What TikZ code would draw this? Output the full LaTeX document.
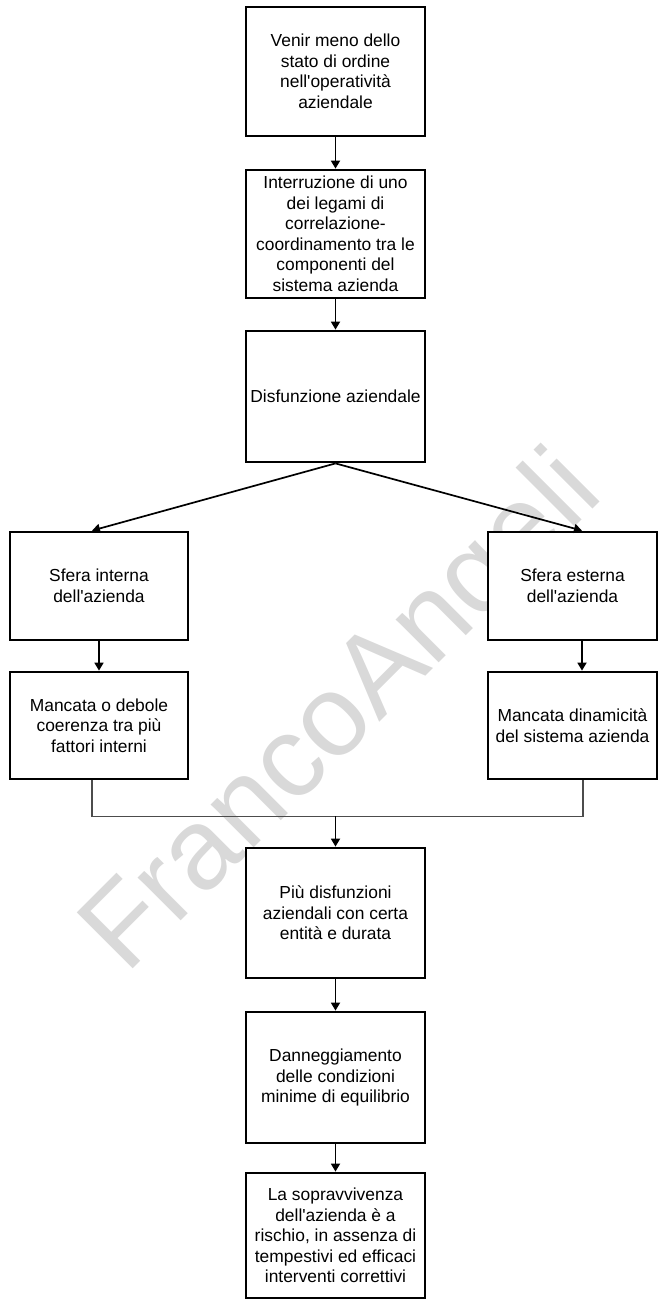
\documentclass[tikz,border=0pt]{standalone}
\usepackage{fontspec}
\setmainfont{Liberation Sans}
\usetikzlibrary{arrows.meta}
\newcommand\apos{\textquotesingle}
\begin{document}
\begin{tikzpicture}[x=1pt,y=-1pt,
  box/.style={draw, line width=2.8pt, fill=white, align=center, inner sep=0pt,
              font=\fontsize{17.4}{20.5}\selectfont},
  arr/.style={line width=1.7pt, -{Triangle[length=8pt,width=9pt]}},
  joinline/.style={line width=1.3pt, draw=black!70},
  wmark/.style={rotate=45, anchor=base west, inner sep=0pt, text=black!15,
                font=\fontsize{115}{115}\selectfont}]
\useasboundingbox (0,0) rectangle (657,1300);

% publisher watermark, behind everything
\node[wmark] (wm) at (126,976) {FrancoAngeli};

% central column
\node[box, minimum width=179pt, minimum height=129pt] (b1) at (335.5,71.5)
  {Venir meno dello\\stato di ordine\\nell\apos operatività\\aziendale};
\node[box, minimum width=179pt, minimum height=128pt] (b2) at (335.5,234)
  {Interruzione di uno\\dei legami di\\correlazione-\\coordinamento tra le\\componenti del\\sistema azienda};
\node[box, minimum width=179pt, minimum height=131pt] (b3) at (335.5,396.5)
  {Disfunzione aziendale};

% two branches
\node[box, minimum width=178pt, minimum height=108pt] (l1) at (99,586)
  {Sfera interna\\dell\apos azienda};
\node[box, minimum width=178pt, minimum height=107pt] (l2) at (99,725.5)
  {Mancata o debole\\coerenza tra più\\fattori interni};
\node[box, minimum width=169pt, minimum height=108pt] (r1) at (572.5,586)
  {Sfera esterna\\dell\apos azienda};
\node[box, minimum width=169pt, minimum height=107pt] (r2) at (572.5,725.5)
  {Mancata dinamicità\\del sistema azienda};

% lower column
\node[box, minimum width=179pt, minimum height=130pt] (p) at (335.5,913)
  {Più disfunzioni\\aziendali con certa\\entità e durata};
\node[box, minimum width=179pt, minimum height=131pt] (d) at (335.5,1077.5)
  {Danneggiamento\\delle condizioni\\minime di equilibrio};
\node[box, minimum width=179pt, minimum height=125pt] (e) at (335.5,1235.5)
  {La sopravvivenza\\dell\apos azienda è a\\rischio, in assenza di\\tempestivi ed efficaci\\interventi correttivi};

% connectors
\draw[arr] (b1) -- (b2);
\draw[arr] (b2) -- (b3);
\draw[arr] (b3.south) -- ([xshift=-7pt]l1.north);
\draw[arr] (b3.south) -- ([xshift=9.5pt]r1.north);
\draw[arr] (l1) -- (l2);
\draw[arr] ([xshift=9.5pt]r1.south) -- ([xshift=9.5pt]r2.north);

\path (l2.south) ++(0,36) coordinate (jy);
\coordinate (jn) at (jy -| p.north);
\draw[joinline] ([xshift=-7pt]l2.south) |- (jn) -| ([xshift=10.5pt]r2.south);
\draw[arr] (jn) -- (p.north);

\draw[arr] (p) -- (d);
\draw[arr] (d) -- (e);
\end{tikzpicture}
\end{document}
